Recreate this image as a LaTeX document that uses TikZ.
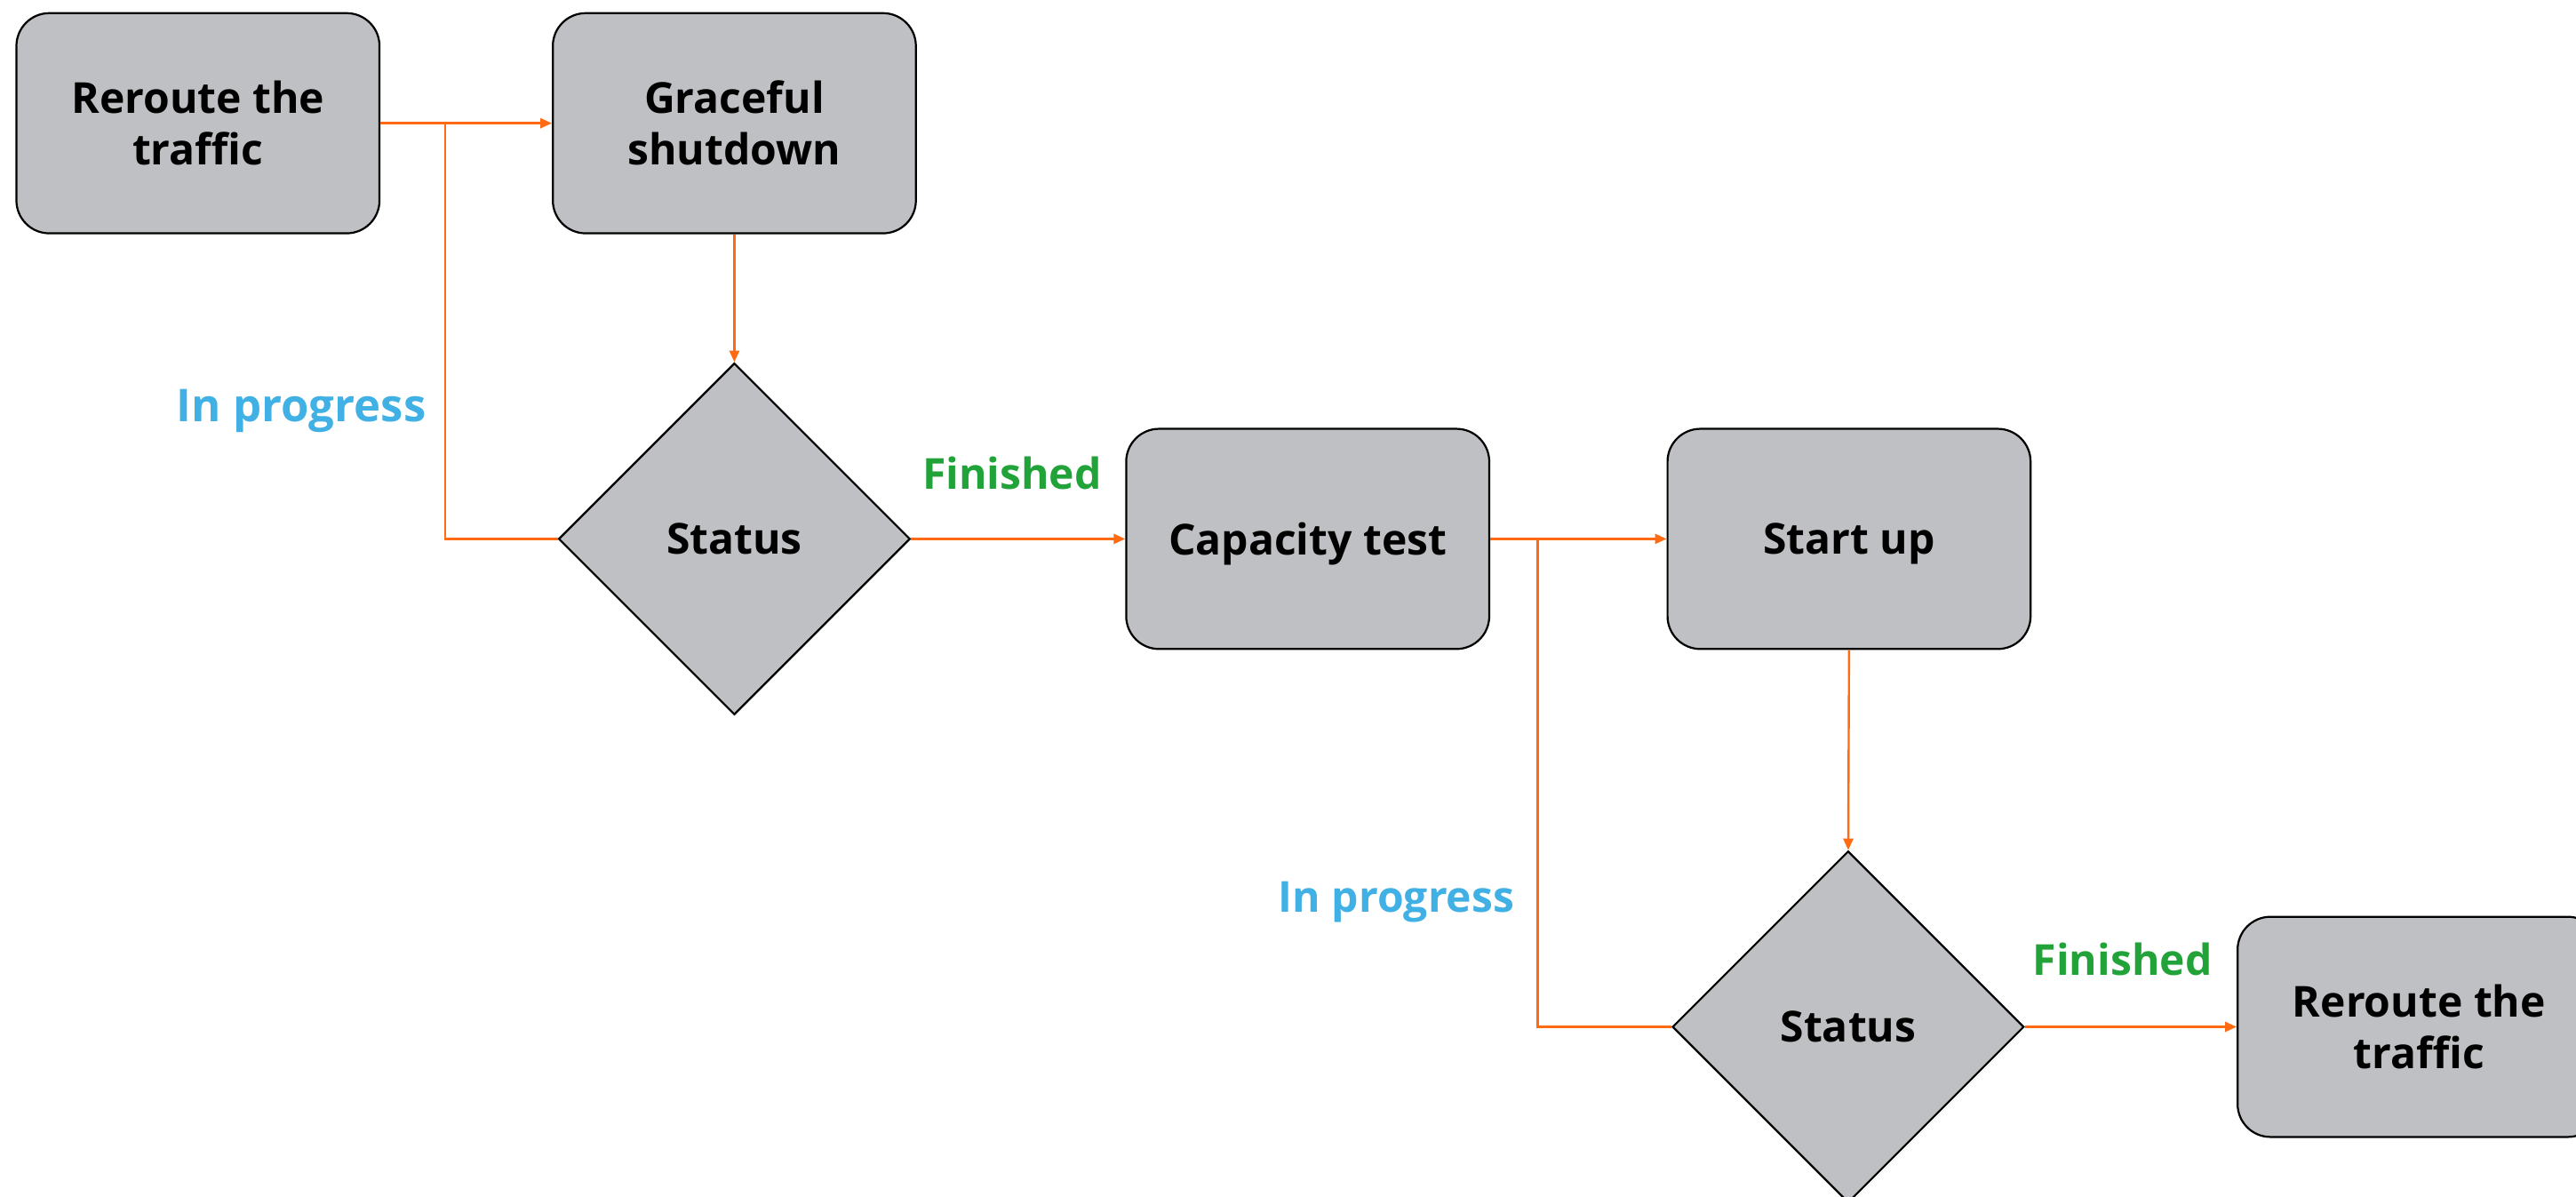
\documentclass[tikz,border=0pt]{standalone}
\usepackage{fontspec}
\setmainfont{Open Sans}
\usetikzlibrary{shapes.geometric,arrows.meta}
\definecolor{boxgrey}{HTML}{BFC0C3}
\definecolor{flow}{HTML}{FF6A13}
\definecolor{progblue}{HTML}{41B0E4}
\definecolor{fingreen}{HTML}{21A33A}
\tikzset{
  stepbox/.style={draw=black, line width=1.2pt, fill=boxgrey, rounded corners=20pt,
    minimum width=221pt, minimum height=134pt, inner sep=0pt, align=center,
    font=\fontsize{26}{31.5}\selectfont\bfseries},
  decision/.style={draw=black, line width=1.2pt, fill=boxgrey, diamond, aspect=1,
    minimum width=214pt, minimum height=214pt, inner sep=0pt,
    font=\fontsize{26}{31.5}\selectfont\bfseries},
  flowline/.style={draw=flow, line width=1.3pt},
  flowarrow/.style={flowline, -{Triangle[length=7pt,width=6pt]}},
  proglabel/.style={text=progblue, font=\fontsize{26}{31.5}\selectfont\bfseries, inner sep=0pt},
  finlabel/.style={text=fingreen, font=\fontsize{26}{31.5}\selectfont\bfseries, inner sep=0pt},
}
\begin{document}
\begin{tikzpicture}[x=1pt,y=-1pt]
\useasboundingbox (0,0) rectangle (1568,728.55);
\clip (0,0) rectangle (1568,728.55);
\node[stepbox] (r1) at (120.5,75) {Reroute the\\traffic};
\node[stepbox] (gs) at (447,75) {Graceful\\shutdown};
\node[decision] (s1) at (447,328) {Status};
\node[stepbox, text depth=0pt] (ct) at (796,328) {Capacity test};
\node[stepbox, text depth=0pt] (su) at (1125.5,328) {Start up};
\node[decision] (s2) at (1125,625) {Status};
\node[stepbox] (r2) at (1472.5,625) {Reroute the\\traffic};

\coordinate (j1) at (271,75);
\coordinate (c1) at (271,328);
\coordinate (j2) at (936,328);
\coordinate (c2) at (936,625);

\draw[flowarrow] (r1.east) -- (gs.west);
\draw[flowline] (s1.west) -- (c1) -- (j1);
\draw[flowarrow] (gs.south) -- (s1.north);
\draw[flowarrow] (s1.east) -- (ct.west);
\draw[flowarrow] (ct.east) -- (su.west);
\draw[flowline] (s2.west) -- (c2) -- (j2);
\draw[flowarrow] (su.south) -- (s2.north);
\draw[flowarrow] (s2.east) -- (r2.west);

\node[proglabel, font=\fontsize{27.5}{33}\selectfont\bfseries] (ip1) at (183.4,250) {In progress};
\node[finlabel] (f1) at (616,288) {Finished};
\node[proglabel] (ip2) at (850,549) {In progress};
\node[finlabel] (f2) at (1292,584) {Finished};
\end{tikzpicture}
\end{document}
